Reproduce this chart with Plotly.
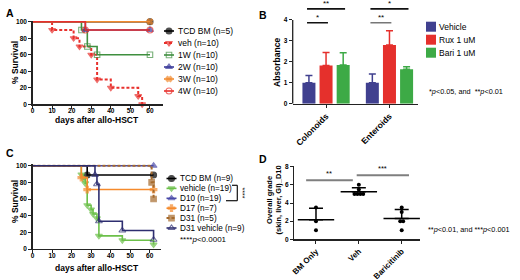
import numpy as np
import plotly.graph_objects as go

W, H = 520, 280
FONT = "Liberation Sans"

# ======================= DATA =======================
# Panel A - survival (% ) vs days after allo-HSCT
a_labels = ["TCD BM (n=5)", "veh (n=10)", "1W (n=10)", "2W (n=10)", "3W (n=10)", "4W (n=10)"]
a_tcd_days = [0, 60]
a_tcd_surv = [100, 100]
a_veh_days = [0, 10, 21, 24, 30, 33, 40, 54, 56]
a_veh_surv = [100, 90, 80, 70, 60, 30, 20, 10, 0]
a_1w_days = [0, 25, 28, 33, 60]
a_1w_surv = [100, 90, 70, 60, 60]
a_2w_days = [0, 27, 60]
a_2w_surv = [100, 90, 90]
a_3w_days = [0, 60]
a_3w_surv = [100, 100]
a_4w_days = [0, 27, 60]
a_4w_surv = [100, 90, 90]

surv_xticks = [0, 10, 20, 30, 40, 50, 60]
surv_yticks = [0, 20, 40, 60, 80, 100]

# Panel B - absorbance bars (mean, +SD)
b_categories = ["Colonoids", "Enteroids"]
b_series = ["Vehicle", "Rux 1 uM", "Bari 1 uM"]
b_vehicle = [1.00, 1.00]
b_vehicle_err = [0.35, 0.42]
b_rux = [1.82, 2.80]
b_rux_err = [0.62, 0.69]
b_bari = [1.85, 1.65]
b_bari_err = [0.58, 0.12]
b_yticks = [0, 1, 2, 3, 4]

# Panel C - survival
c_labels = ["TCD BM (n=9)", "vehicle (n=19)", "D10 (n=19)", "D17 (n=7)", "D31 (n=5)", "D31 vehicle (n=9)"]
c_tcd_days = [0, 28, 62]
c_tcd_surv = [100, 88.9, 88.9]
c_veh_days = [0, 25, 26, 27, 28, 30, 31, 33, 34, 46, 62]
c_veh_surv = [100, 89.5, 84.2, 78.9, 52.6, 47.4, 42.1, 36.8, 15.8, 10.5, 5.3]
c_d10_days = [0, 62]
c_d10_surv = [100, 100]
c_d17_days = [0, 25, 28, 62]
c_d17_surv = [100, 85.7, 71.4, 71.4]
c_d31_days = [0, 61, 62]
c_d31_surv = [100, 80, 60]
c_d31veh_days = [0, 32, 33, 34, 46, 62]
c_d31veh_surv = [100, 88.9, 77.8, 33.3, 22.2, 11.1]

# Panel D - overall grade at D10
d_categories = ["BM Only", "Veh", "Baricitinib"]
d_bm = [1, 2, 3.5]
d_veh = [6, 5.5, 5, 5, 5, 5]
d_bari = [1, 2, 2, 3, 3.5]
d_yticks = [0, 2, 4, 6, 8]

# ======================= HELPERS =======================
def px(x):
    return x / W

def py(y):
    return 1 - y / H

AXC = "#222222"
TICKFONT = dict(family=FONT, size=6.5, color="black", weight="bold")


def axis(**kw):
    d = dict(showline=True, linecolor=AXC, linewidth=1.3, ticks="outside", ticklen=3,
             tickwidth=1, tickcolor=AXC, showgrid=False, zeroline=False,
             tickfont=TICKFONT, fixedrange=True, automargin=False)
    d.update(kw)
    return d


fig = go.Figure()


def km(days, surv, st, xa, ya):
    sizes = [0] + [st["size"]] * (len(days) - 1)
    fig.add_trace(go.Scatter(
        x=days, y=surv, mode="lines+markers", xaxis=xa, yaxis=ya,
        line=dict(shape="hv", color=st["color"], width=st.get("width", 1.6),
                  dash=st.get("dash", "solid")),
        marker=dict(symbol=st["symbol"], size=sizes, color=st["color"],
                    line=dict(color=st["color"], width=1.1)),
        cliponaxis=False, showlegend=False, hoverinfo="skip"))


def legend_glyph(xc, yc, st, half=5):
    fig.add_trace(go.Scatter(
        x=[xc - half, xc, xc + half], y=[yc] * 3, mode="lines+markers",
        xaxis="x5", yaxis="y5",
        line=dict(color=st["color"], width=st.get("width", 1.6), dash=st.get("dash", "solid")),
        marker=dict(symbol=st["symbol"], size=[0, st["size"], 0], color=st["color"],
                    line=dict(color=st["color"], width=1.1)),
        cliponaxis=False, showlegend=False, hoverinfo="skip"))


annotations = []
shapes = []


def text(x, y, s, size=8.5, bold=False, xanchor="left", angle=0, color="black"):
    annotations.append(dict(x=px(x), y=py(y), xref="paper", yref="paper", text=s,
                            showarrow=False, xanchor=xanchor, yanchor="middle",
                            textangle=angle, borderpad=0,
                            font=dict(family=FONT, size=size, color=color,
                                      weight="bold" if bold else "normal")))

# ======================= PANEL A =======================
a_styles = [
    dict(color="#000000", symbol="circle", size=6),
    dict(color="#E8302C", symbol="triangle-down", size=6, dash="3px,2px", width=2),
    dict(color="#3F8F3F", symbol="square-open", size=5.5),
    dict(color="#3B3B9B", symbol="triangle-up", size=6),
    dict(color="#F28A2E", symbol="x", size=5),
    dict(color="#E8302C", symbol="circle-open", size=6),
]
a_days_all = [a_tcd_days, a_veh_days, a_1w_days, a_2w_days, a_3w_days, a_4w_days]
a_surv_all = [a_tcd_surv, a_veh_surv, a_1w_surv, a_2w_surv, a_3w_surv, a_4w_surv]
for d, s, st in zip(a_days_all, a_surv_all, a_styles):
    km(d, s, st, "x", "y")

for i, (lab, st) in enumerate(zip(a_labels, a_styles)):
    ry = 31 + i * 12
    legend_glyph(169, ry, st)
    text(177, ry, lab, size=8.5)

text(15, 63, "% Survival", size=8.5, bold=True, xanchor="center", angle=-90)
text(97, 120, "days after allo-HSCT", size=8.5, bold=True, xanchor="center")
text(10, 13, "A", size=10.5, bold=True, xanchor="center")

# ======================= PANEL B =======================
b_colors = ["#40408F", "#E5302C", "#3DAA46"]
for name, vals, errs, col in zip(b_series, [b_vehicle, b_rux, b_bari],
                                 [b_vehicle_err, b_rux_err, b_bari_err], b_colors):
    fig.add_trace(go.Bar(
        x=list(range(len(b_categories))), y=vals, name=name, xaxis="x2", yaxis="y2",
        marker=dict(color=col, line=dict(width=0)),
        error_y=dict(type="data", symmetric=False, array=errs, arrayminus=[0] * len(errs),
                     color=col, thickness=1.5, width=3.5),
        showlegend=False, hoverinfo="skip"))

BARGAP = 0.19
slot = (1 - BARGAP) / 3
b_sig_cat = [0, 0, 1, 1]
b_sig_to = [2, 1, 2, 1]
b_sig_level = [4.53, 3.87, 4.53, 3.87]
b_sig_text = ["**", "*", "*", "**"]
b_sig_color = ["#111111", "#111111", "#111111", "#777777"]
for c, to, lv, tx, colr in zip(b_sig_cat, b_sig_to, b_sig_level, b_sig_text, b_sig_color):
    x0 = c - slot - 0.03
    x1 = c + (to - 1) * slot + 0.03
    shapes.append(dict(type="line", xref="x2", yref="y2", x0=x0, x1=x1, y0=lv, y1=lv,
                       line=dict(color=colr, width=1.6)))
    annotations.append(dict(x=(x0 + x1) / 2, y=lv, xref="x2", yref="y2", text=tx,
                            showarrow=False, yanchor="bottom", yshift=-1,
                            font=dict(family=FONT, size=8, color="black")))
# y axis line (only up to 4)
shapes.append(dict(type="line", xref="x2 domain", yref="y2", x0=0, x1=0, y0=0, y1=max(b_yticks),
                   line=dict(color=AXC, width=1.3)))

for i, (name, col) in enumerate(zip(b_series, b_colors)):
    ry = 26.7 + i * 13
    fig.add_trace(go.Scatter(x=[431], y=[ry], mode="markers", xaxis="x5", yaxis="y5",
                             marker=dict(symbol="square", size=10, color=col),
                             cliponaxis=False, showlegend=False, hoverinfo="skip"))
    text(438, ry, name, size=8.5)

text(277, 63, "Absorbance", size=8.5, bold=True, xanchor="center", angle=-90)
text(428, 92, "*<i>p</i>&lt;0.05, and  **<i>p</i>&lt;0.01", size=7.3)
text(263, 15, "B", size=10.5, bold=True, xanchor="center")

# ======================= PANEL C =======================
c_styles = [
    dict(color="#000000", symbol="circle", size=6),
    dict(color="#6CC04A", symbol="triangle-down", size=6),
    dict(color="#4A4AA8", symbol="triangle-up", size=6),
    dict(color="#F58A2C", symbol="cross", size=5.5),
    dict(color="#A66A2C", symbol="square", size=5.5, dash="3px,2px", width=2),
    dict(color="#2E2E70", symbol="triangle-up-open", size=6),
]
c_days_all = [c_tcd_days, c_veh_days, c_d10_days, c_d17_days, c_d31_days, c_d31veh_days]
c_surv_all = [c_tcd_surv, c_veh_surv, c_d10_surv, c_d17_surv, c_d31_surv, c_d31veh_surv]
for d, s, st in zip(c_days_all, c_surv_all, c_styles):
    km(d, s, st, "x3", "y3")

for i, (lab, st) in enumerate(zip(c_labels, c_styles)):
    ry = 178.5 + i * 9.9
    legend_glyph(171.5, ry, st)
    text(179, ry, lab, size=8.2)
text(179, 239.5, "****<i>p</i>&lt;0.0001", size=8)

# significance bracket between vehicle and D10 legend rows
for (x0, y0, x1, y1) in [(232, 185.3, 237.3, 185.3), (237.3, 185.3, 237.3, 200.7),
                         (226, 200.7, 237.3, 200.7)]:
    shapes.append(dict(type="line", xref="paper", yref="paper", x0=px(x0), y0=py(y0),
                       x1=px(x1), y1=py(y1), line=dict(color="#111111", width=1.2)))
text(242.5, 193, "****", size=7, xanchor="center", angle=90)

text(15, 202, "% Survival", size=8.5, bold=True, xanchor="center", angle=-90)
text(97, 267.5, "days after allo-HSCT", size=8.5, bold=True, xanchor="center")
text(10, 153, "C", size=10.5, bold=True, xanchor="center")

# ======================= PANEL D =======================
DOT_STEP = 0.068
d_groups = [d_bm, d_veh, d_bari]
for gi, vals in enumerate(d_groups):
    xs, ys = [], []
    uniq = {}
    for v in vals:
        uniq[v] = uniq.get(v, 0) + 1
    for v, n in uniq.items():
        for k in range(n):
            xs.append(gi + (k - (n - 1) / 2) * DOT_STEP)
            ys.append(v)
    fig.add_trace(go.Scatter(x=xs, y=ys, mode="markers", xaxis="x4", yaxis="y4",
                             marker=dict(symbol="circle", size=4, color="black"),
                             cliponaxis=False, showlegend=False, hoverinfo="skip"))

d_means = [float(np.mean(v)) for v in d_groups]
d_sds = [float(np.std(v, ddof=1)) for v in d_groups]
fig.add_trace(go.Scatter(
    x=list(range(len(d_groups))), y=d_means, mode="markers", xaxis="x4", yaxis="y4",
    marker=dict(symbol="line-ew", size=26, color="black", line=dict(color="black", width=1.5)),
    error_y=dict(type="data", symmetric=False, array=d_sds, arrayminus=[0] * len(d_sds),
                 color="black", thickness=1.5, width=7),
    cliponaxis=False, showlegend=False, hoverinfo="skip"))

d_sig_x0 = [-0.23, 0.95]
d_sig_x1 = [0.86, 2.17]
d_sig_level = [6.5, 7.07]
d_sig_text = ["**", "***"]
for x0, x1, lv, tx in zip(d_sig_x0, d_sig_x1, d_sig_level, d_sig_text):
    shapes.append(dict(type="line", xref="x4", yref="y4", x0=x0, x1=x1, y0=lv, y1=lv,
                       line=dict(color="#7F7F7F", width=2)))
    annotations.append(dict(x=(x0 + x1) / 2, y=lv, xref="x4", yref="y4", text=tx,
                            showarrow=False, yanchor="bottom", yshift=0,
                            font=dict(family=FONT, size=7.5, color="black")))

text(273.5, 200, "Overall grade<br>(skin, liver, GI)_D10", size=7.5, bold=True,
     xanchor="center", angle=-90)
text(427, 229, "**<i>p</i>&lt;0.01, and ***<i>p</i>&lt;0.001", size=7.3)
text(263, 159, "D", size=10.5, bold=True, xanchor="center")

# ======================= LAYOUT =======================
fig.update_layout(
    template="none",
    width=W, height=H, margin=dict(l=0, r=0, t=0, b=0, autoexpand=False),
    paper_bgcolor="white", plot_bgcolor="rgba(0,0,0,0)",
    barmode="group", bargap=BARGAP, bargroupgap=0.24,
    showlegend=False,
    font=dict(family=FONT, color="black"),
    xaxis=axis(domain=[px(32.5), px(162.5)], range=[0, 66.4], tickvals=surv_xticks, anchor="y",
               ticklabelstandoff=-3),
    yaxis=axis(domain=[py(104.3), py(21)], range=[0, 100.85], tickvals=surv_yticks, anchor="x"),
    xaxis2=axis(domain=[px(292.7), px(418)], range=[-0.526, 1.45], tickvals=[0, 1],
                ticktext=b_categories, tickangle=-45,
                tickfont=dict(family=FONT, size=8.5, color="black", weight="bold"), anchor="y2"),
    yaxis2=axis(domain=[py(103.7), py(5)], range=[0, 4.715], tickvals=b_yticks,
                showline=False, anchor="x2"),
    xaxis3=axis(domain=[px(32.5), px(161)], range=[0, 65.8], tickvals=surv_xticks, anchor="y3",
                ticklabelstandoff=-3),
    yaxis3=axis(domain=[py(249), py(164.3)], range=[0, 101.7], tickvals=surv_yticks, anchor="x3"),
    xaxis4=axis(domain=[px(294.3), px(420)], range=[-0.506, 2.427], tickvals=[0, 1, 2],
                ticktext=d_categories, tickangle=-45,
                tickfont=dict(family=FONT, size=8, color="black", weight="bold"), anchor="y4"),
    yaxis4=axis(domain=[py(239.3), py(165.7)], range=[0, 8.11], tickvals=d_yticks, anchor="x4"),
    xaxis5=dict(domain=[0, 1], range=[0, W], visible=False, fixedrange=True, anchor="y5",
                automargin=False),
    yaxis5=dict(domain=[0, 1], range=[H, 0], visible=False, fixedrange=True, anchor="x5",
                automargin=False),
    annotations=annotations,
    shapes=shapes,
)

fig.write_html("out.html", config={"staticPlot": True},
               post_script="document.body.style.margin='0';document.body.style.padding='0';")
